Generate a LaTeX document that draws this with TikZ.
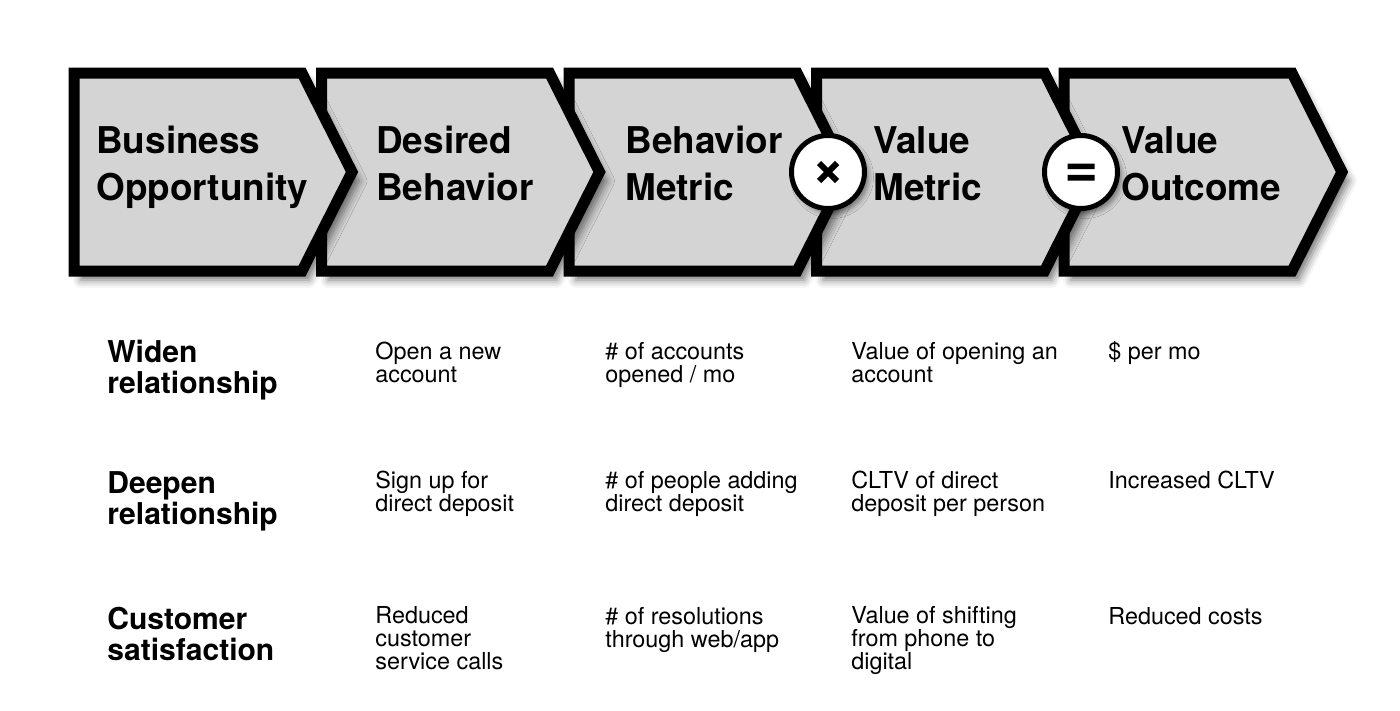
\documentclass[tikz,border=0pt]{standalone}
\usepackage{fontspec}
\setmainfont{TeX Gyre Heros}
\usetikzlibrary{shadows.blur}

\definecolor{chevgray}{RGB}{212,212,212}

\tikzset{
  chevron/.style={line width=2.2mm, line join=miter, fill=chevgray, draw=black,
    blur shadow={shadow xshift=1.4mm, shadow yshift=-1.8mm, shadow blur radius=1.6mm, shadow opacity=55}},
  opcircle/.style={circle, draw=black, fill=white, line width=1mm, minimum size=14.6mm, inner sep=0pt,
    blur shadow={shadow xshift=0.8mm, shadow yshift=-1mm, shadow blur radius=1mm, shadow opacity=45}},
  head/.style={anchor=base west, align=left, inner sep=0pt, font=\fontsize{21}{26.7}\selectfont\bfseries},
  rowlabel/.style={anchor=base west, align=left, inner sep=0pt, font=\fontsize{17.1}{17.6}\selectfont\bfseries},
  cell/.style={anchor=base west, align=left, inner sep=0pt, font=\fontsize{13.3}{12.9}\selectfont}
}

\begin{document}
\begin{tikzpicture}[x=0.2mm, y=-0.2mm]
\useasboundingbox (0,0) rectangle (1400,711);

% chevrons, last one first so each overlaps the next
\foreach \dx in {990,742.5,495,247.5,0}
  \draw[chevron] (74+\dx,73) -- (302+\dx,73) -- (352+\dx,172) -- (302+\dx,271) -- (74+\dx,271) -- cycle;

% node base = baseline of the last line
\node[head] (hOpp) at (96,200) {Business\\Opportunity};
\node[head] (hBeh) at (376,200) {Desired\\Behavior};
\node[head] (hBM) at (625,200) {Behavior\\Metric};
\node[head] (hVM) at (873,200) {Value\\Metric};
\node[head] (hVO) at (1121,200) {Value\\Outcome};

% operators
\node[opcircle] (times) at (828,172) {};
\draw[line width=1.2mm, shift={(times)}] (-9,-9) -- (9,9) (-9,9) -- (9,-9);
\node[opcircle] (equals) at (1081,172) {};
\fill[shift={(equals)}] (-13.5,-8.5) rectangle (13.5,-2.8) (-13.5,2.8) rectangle (13.5,8.5);

% rows
\node[rowlabel] (rWiden) at (107,393) {Widen\\relationship};
\node[rowlabel] (rDeepen) at (107,524) {Deepen\\relationship};
\node[rowlabel] (rCust) at (107,660) {Customer\\satisfaction};

\node[cell] (w1) at (375,382) {Open a new\\account};
\node[cell] (w2) at (605,382) {\# of accounts\\opened / mo};
\node[cell] (w3) at (851,382) {Value of opening an\\account};
\node[cell] (w4) at (1108,359) {\$ per mo};

\node[cell] (d1) at (375,511) {Sign up for\\direct deposit};
\node[cell] (d2) at (605,511) {\# of people adding\\direct deposit};
\node[cell] (d3) at (851,511) {CLTV of direct\\deposit per person};
\node[cell] (d4) at (1108,488) {Increased CLTV};

\node[cell] (c1) at (375,669) {Reduced\\customer\\service calls};
\node[cell] (c2) at (605,647) {\# of resolutions\\through web/app};
\node[cell] (c3) at (851,669) {Value of shifting\\from phone to\\digital};
\node[cell] (c4) at (1108,624) {Reduced costs};
\end{tikzpicture}
\end{document}
